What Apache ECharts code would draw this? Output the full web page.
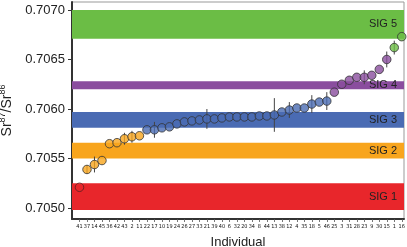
<!DOCTYPE html>
<html><head><meta charset="utf-8">
<script src="https://cdn.jsdelivr.net/npm/echarts@6/dist/echarts.min.js"></script>
<style>html,body{margin:0;padding:0;background:#fff}#c{width:407px;height:247px}</style>
</head><body><div id="c"></div>
<script>
// Individuals in plotted order
const individuals = ['41','37','14','45','36','42','43','2','11','22','17','10','19','24','26','27','33','21','39','40','6','32','20','34','8','44','13','38','12','4','35','18','5','46','25','3','31','28','23','9','30','15','1','16'];
// Sr87/Sr86 ratios
const ratios = [0.70521,0.70539,0.70544,0.70548,0.70565,0.70566,0.70570,0.70572,0.70573,
  0.70579,0.70579,0.70581,0.70582,0.70585,0.70587,0.70588,0.70589,0.70590,0.70590,0.70591,
  0.70592,0.70592,0.70592,0.70592,0.70593,0.70593,0.70594,0.70597,0.70599,0.70601,0.70601,
  0.70605,0.70607,0.70608,
  0.70617,0.70625,0.70629,0.70632,0.70632,0.70634,0.70640,0.70650,
  0.70662,0.70673];
// error (+/-)
const errors = [0,0.00004,0.00008,0,0,0,0.00006,0.00006,0,0,0.00008,0,0,0,0,0,0,0.00010,0,0,
  0,0,0,0,0,0,0.00017,0,0.00008,0,0,0.00009,0,0.00009,0,0,0,0,0.00007,0,0,0.00008,0.00007,0];
// signature group of each point
const groups = ['open','SIG 2','SIG 2','SIG 2','SIG 2','SIG 2','SIG 2','SIG 2','SIG 2',
  'SIG 3','SIG 3','SIG 3','SIG 3','SIG 3','SIG 3','SIG 3','SIG 3','SIG 3','SIG 3','SIG 3','SIG 3',
  'SIG 3','SIG 3','SIG 3','SIG 3','SIG 3','SIG 3','SIG 3','SIG 3','SIG 3','SIG 3','SIG 3','SIG 3','SIG 3',
  'SIG 4','SIG 4','SIG 4','SIG 4','SIG 4','SIG 4','SIG 4','SIG 4','SIG 5','SIG 5'];
// signature bands
const bandNames = ['SIG 1','SIG 2','SIG 3','SIG 4','SIG 5'];
const bandLow  = [0.70498,0.70550,0.70581,0.70620,0.70671];
const bandHigh = [0.70525,0.70566,0.70597,0.70628,0.70700];

const bandColor = {'SIG 1':'#e8262b','SIG 2':'#f8a51d','SIG 3':'#4a6bb3','SIG 4':'#8a4d9e','SIG 5':'#6bbd45'};
const pointColor = {'SIG 2':'#f8a51d','SIG 3':'#4a6bb3','SIG 4':'#8a4d9e','SIG 5':'#6bbd45'};

const chart = echarts.init(document.getElementById('c'), null, {renderer:'canvas'});
const font = 'Liberation Sans, Arial, sans-serif';

const markData = bandNames.map((n,i)=>[
  {yAxis: bandLow[i], name: n, itemStyle:{color: bandColor[n]},
   label:{show:true, position:'insideRight', formatter:n, color:'#222', fontSize:11, fontFamily:font, offset:[-2,0]}},
  {yAxis: bandHigh[i]}
]);

const scatterData = ratios.map((v,i)=>{
  const g = groups[i];
  if (g === 'open') return {value:[i+1,v], itemStyle:{color:'rgba(0,0,0,0)', borderColor:'#5a1f1f', borderWidth:1}};
  return {value:[i+1,v], itemStyle:{color: pointColor[g], borderColor:'#333', borderWidth:1}};
});
const errData = ratios.map((v,i)=>[i+1, v, errors[i]]);

chart.setOption({
  animation:false,
  grid:{left:72, right:3, top:2, bottom:28, show:true, borderColor:'#999', borderWidth:1,
        containLabel:false, outerBoundsMode:'none'},
  xAxis:{type:'value', min:0, max:44.3, interval:1,
    name:'Individual', nameLocation:'middle', nameGap:17,
    nameTextStyle:{fontSize:13, color:'#222', fontFamily:font},
    axisLine:{show:true, lineStyle:{color:'#333', width:2}},
    axisTick:{show:true, length:3, lineStyle:{color:'#555', width:0.8}},
    splitLine:{show:false},
    axisLabel:{fontSize:5.5, margin:5, color:'#111', fontFamily:'DejaVu Sans Condensed, Liberation Sans Narrow, sans-serif',
      showMinLabel:false, showMaxLabel:false, hideOverlap:false,
      formatter:(v)=> (Number.isInteger(v) && v>=1 && v<=individuals.length) ? individuals[v-1] : ''}
  },
  yAxis:{type:'value', min:0.70489, max:0.70708, splitNumber:5,
    name:'{t|Sr}{s|87}{t|/Sr}{s|86}', nameLocation:'middle', nameGap:52, nameRotate:90,
    nameTextStyle:{rich:{
      t:{fontSize:14, color:'#222', fontFamily:font, lineHeight:16, verticalAlign:'bottom'},
      s:{fontSize:9, color:'#222', fontFamily:font, lineHeight:16, verticalAlign:'top', padding:[0,0,7,0]}
    }},
    axisLine:{show:true, lineStyle:{color:'#333', width:2}},
    axisTick:{show:true, length:4, lineStyle:{color:'#333', width:1}},
    splitLine:{show:false},
    axisLabel:{fontSize:13, color:'#222', fontFamily:font, margin:7, showMinLabel:false, showMaxLabel:false,
      formatter:(v)=>v.toFixed(4)}
  },
  series:[
    {type:'line', data:[], z:1, silent:true,
     markArea:{silent:true, data:markData}},
    {type:'custom', z:3, data:errData, silent:true,
     renderItem:(params, api)=>{
       const e = api.value(2);
       if (!e) return null;
       const x = api.value(0), y = api.value(1);
       const p1 = api.coord([x, y-e]), p2 = api.coord([x, y+e]);
       return {type:'line', shape:{x1:p1[0], y1:p1[1], x2:p2[0], y2:p2[1]},
               style:{stroke:'#444', lineWidth:1}};
     }},
    {type:'scatter', z:4, symbol:'circle', symbolSize:8.5, data:scatterData}
  ]
});
</script>
</body></html>
